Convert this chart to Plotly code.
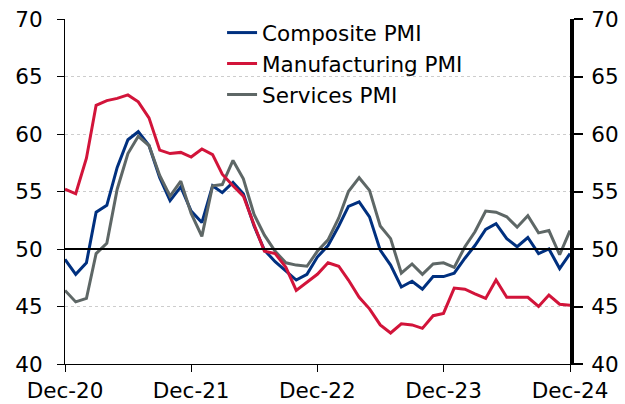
import pandas as pd
import plotly.graph_objects as go

months = pd.date_range("2020-12-01", periods=49, freq="MS")

composite = [49.1, 47.8, 48.8, 53.2, 53.8, 57.1, 59.5, 60.2, 59.0, 56.2, 54.2, 55.4,
             53.3, 52.3, 55.5, 54.9, 55.8, 54.8, 52.0, 49.9, 48.9, 48.1, 47.3, 47.8,
             49.3, 50.3, 52.0, 53.7, 54.1, 52.8, 49.9, 48.6, 46.7, 47.2, 46.5, 47.6,
             47.6, 47.9, 49.2, 50.3, 51.7, 52.2, 50.9, 50.2, 51.0, 49.6, 50.0, 48.3, 49.6]
manufacturing = [55.2, 54.8, 57.9, 62.5, 62.9, 63.1, 63.4, 62.8, 61.4, 58.6, 58.3, 58.4,
                 58.0, 58.7, 58.2, 56.5, 55.5, 54.6, 52.1, 49.8, 49.6, 48.4, 46.4, 47.1,
                 47.8, 48.8, 48.5, 47.3, 45.8, 44.8, 43.4, 42.7, 43.5, 43.4, 43.1, 44.2,
                 44.4, 46.6, 46.5, 46.1, 45.7, 47.3, 45.8, 45.8, 45.8, 45.0, 46.0, 45.2, 45.1]
services = [46.4, 45.4, 45.7, 49.6, 50.5, 55.2, 58.3, 59.8, 59.0, 56.4, 54.6, 55.9,
            53.1, 51.1, 55.5, 55.6, 57.7, 56.1, 53.0, 51.2, 49.8, 48.8, 48.6, 48.5,
            49.8, 50.8, 52.7, 55.0, 56.2, 55.1, 52.0, 50.9, 47.9, 48.7, 47.8, 48.7,
            48.8, 48.4, 50.2, 51.5, 53.3, 53.2, 52.8, 51.9, 52.9, 51.4, 51.6, 49.5, 51.6]

tick_dates = ["2020-12-01", "2021-12-01", "2022-12-01", "2023-12-01", "2024-12-01"]
tick_labels = ["Dec-20", "Dec-21", "Dec-22", "Dec-23", "Dec-24"]
y_ticks = [40, 45, 50, 55, 60, 65, 70]

FONT = "DejaVu Sans"
FS = 21.5

fig = go.Figure()
# invisible trace so the right-hand axis is drawn
fig.add_trace(go.Scatter(x=months, y=composite, yaxis="y2", mode="lines",
                         line=dict(width=0), opacity=0, showlegend=False, hoverinfo="skip"))
fig.add_trace(go.Scatter(x=months, y=composite, name="Composite PMI", mode="lines",
                         line=dict(color="#00307f", width=3), legendrank=1, legendgroup="a"))
fig.add_trace(go.Scatter(x=months, y=services, name="Services PMI", mode="lines",
                         line=dict(color="#5e6766", width=3), legendrank=3, legendgroup="c"))
fig.add_trace(go.Scatter(x=months, y=manufacturing, name="Manufacturing PMI", mode="lines",
                         line=dict(color="#d2143a", width=3), legendrank=2, legendgroup="b"))

fig.add_shape(type="line", xref="paper", x0=0, x1=1, yref="y", y0=50, y1=50,
              line=dict(color="black", width=2), layer="above")

fig.update_layout(
    width=625, height=404,
    margin=dict(l=65, r=55, t=19, b=40, autoexpand=False),
    paper_bgcolor="white", plot_bgcolor="white",
    font=dict(family=FONT, size=FS, color="black"),
    showlegend=True,
    legend=dict(x=0.311, y=1.02, xanchor="left", yanchor="top",
                bgcolor="rgba(0,0,0,0)", font=dict(family=FONT, size=FS),
                tracegroupgap=7, traceorder="normal"),
    xaxis=dict(type="date", range=[months[0], months[-1]], automargin=False,
               tickvals=tick_dates, ticktext=tick_labels,
               showgrid=False, zeroline=False, showline=True, linecolor="black", linewidth=1,
               ticks="outside", ticklen=7, tickcolor="black", tickwidth=1),
    yaxis=dict(range=[40, 70], tickvals=y_ticks, showgrid=True, gridcolor="#cdcdcd",
               griddash="dot", gridwidth=1, zeroline=False, showline=True, linecolor="black",
               linewidth=1, ticks="outside", ticklen=7, tickcolor="black", tickwidth=1,
               ticklabelstandoff=10, automargin=False),
    yaxis2=dict(range=[40, 70], tickvals=y_ticks, overlaying="y", side="right",
                showgrid=False, zeroline=False, showline=True, linecolor="black",
                linewidth=4, ticks="outside", ticklen=9, tickcolor="black", tickwidth=2,
                ticklabelstandoff=4, automargin=False),
)

fig.write_html("out.html", config={"displayModeBar": False},
               post_script="document.body.style.margin='0';document.body.style.overflow='hidden';")
